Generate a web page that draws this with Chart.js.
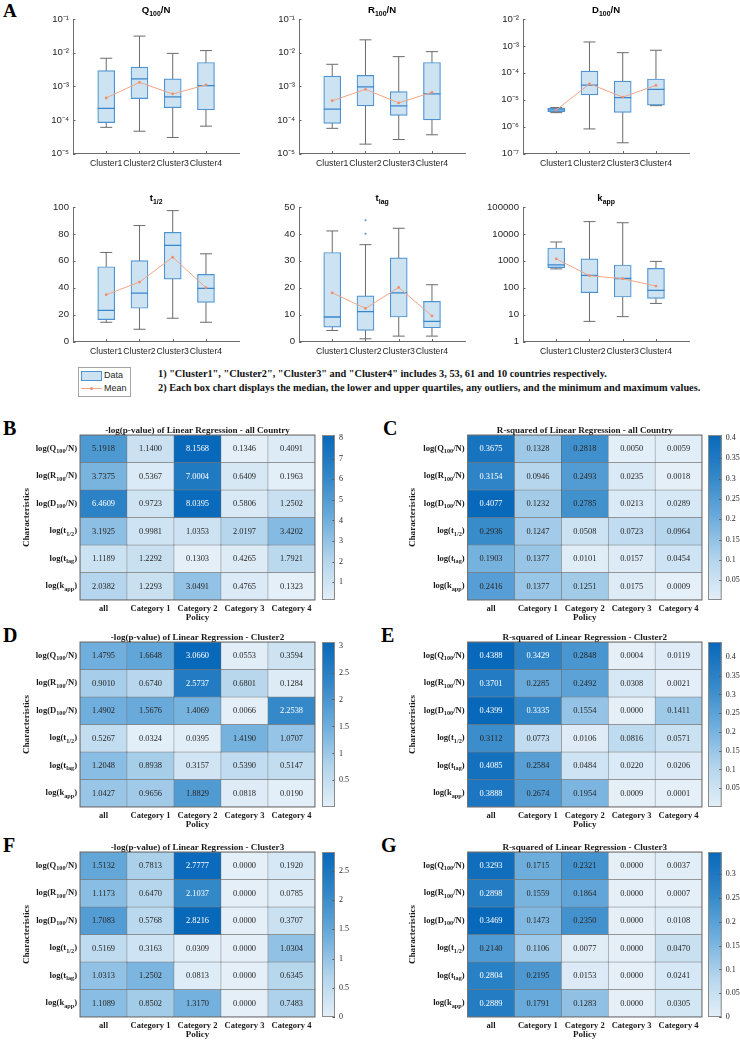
<!DOCTYPE html>
<html><head><meta charset="utf-8">
<script src="https://cdn.jsdelivr.net/npm/chart.js@4.4.0/dist/chart.umd.min.js"></script>
<style>
html,body{margin:0;padding:0;background:#fff;}
#fig{position:relative;width:740px;height:1047px;overflow:hidden;background:#fff;}
#fig canvas{position:absolute;}
.letter{position:absolute;font-family:'Liberation Serif','Times New Roman',serif;font-weight:bold;line-height:1;color:#000;}
#notes{position:absolute;left:158px;top:367px;font-family:'Liberation Serif','Times New Roman',serif;font-weight:bold;font-size:10.3px;line-height:14px;color:#111;white-space:nowrap;}
#legend{position:absolute;left:78px;top:367px;width:51px;height:28px;border:1px solid #a3a3a3;background:#fff;font-family:'Liberation Sans',Arial,sans-serif;font-size:9px;color:#262626;}
#legend span{position:absolute;line-height:10px;}
</style></head>
<body><div id="fig">
<div class="letter" style="left:3px;top:1px;font-size:19px;">A</div>
<div class="letter" style="left:3px;top:418px;font-size:20px;">B</div>
<div class="letter" style="left:383px;top:418px;font-size:20px;">C</div>
<div class="letter" style="left:3px;top:625px;font-size:20px;">D</div>
<div class="letter" style="left:381px;top:625px;font-size:20px;">E</div>
<div class="letter" style="left:3px;top:835px;font-size:20px;">F</div>
<div class="letter" style="left:381px;top:835px;font-size:20px;">G</div>
<div id="legend">
  <div style="position:absolute;left:2px;top:3px;width:19px;height:8px;background:#cde3f2;border:1px solid #4d93d2;"></div>
  <span style="left:25px;top:2px;">Data</span>
  <div style="position:absolute;left:2px;top:20px;width:21px;height:1px;background:#f2a585;"></div>
  <div style="position:absolute;left:11px;top:19px;width:3px;height:3px;border-radius:50%;background:#ee9070;"></div>
  <span style="left:25px;top:15px;">Mean</span>
</div>
<div id="notes">1) "Cluster1", "Cluster2", "Cluster3" and "Cluster4" includes 3, 53, 61 and 10 countries respectively.<br>2) Each box chart displays the median, the lower and upper quartiles, any outliers, and the minimum and maximum values.</div>
</div>
<script>
// ---------------- DATA ----------------
const clusters = ['Cluster1','Cluster2','Cluster3','Cluster4'];

const q100Min  = [6.0e-5, 4.6e-5, 3.0e-5, 6.5e-5];
const q100Q1   = [8.3e-5, 4.3e-4, 2.3e-4, 2.0e-4];
const q100Med  = [2.2e-4, 1.65e-3, 4.8e-4, 1.05e-3];
const q100Q3   = [2.9e-3, 3.7e-3, 1.65e-3, 5.1e-3];
const q100Max  = [6.8e-3, 3.1e-2, 9.5e-3, 1.15e-2];
const q100Mean = [4.5e-4, 1.3e-3, 5.9e-4, 1.1e-3];

const r100Min  = [5.6e-5, 1.9e-5, 2.6e-5, 3.6e-5];
const r100Q1   = [7.9e-5, 2.6e-4, 1.35e-4, 1.0e-4];
const r100Med  = [2.1e-4, 9.6e-4, 2.6e-4, 5.9e-4];
const r100Q3   = [2.0e-3, 2.1e-3, 6.9e-4, 5.1e-3];
const r100Max  = [4.5e-3, 2.4e-2, 7.6e-3, 1.07e-2];
const r100Mean = [3.7e-4, 8.1e-4, 3.2e-4, 6.6e-4];

const d100Min  = [3.3e-6, 8.2e-7, 2.5e-7, 6.0e-6];
const d100Q1   = [3.6e-6, 1.5e-5, 3.4e-6, 6.3e-6];
const d100Med  = [4.2e-6, 3.5e-5, 1.2e-5, 2.4e-5];
const d100Q3   = [4.9e-6, 1.15e-4, 4.9e-5, 5.9e-5];
const d100Max  = [5.1e-6, 1.4e-3, 5.6e-4, 6.9e-4];
const d100Mean = [4.1e-6, 3.9e-5, 1.25e-5, 3.4e-5];

const thMin  = [14.3, 9.1, 17.3, 14.3];
const thQ1   = [16.3, 24.7, 46.4, 29.1];
const thMed  = [23.2, 36.0, 71.4, 39.5];
const thQ3   = [55.6, 60.2, 81.2, 49.9];
const thMax  = [66.2, 86.2, 97.3, 65.2];
const thMean = [34.8, 44.2, 62.7, 40.0];

const tlMin  = [4.1, 1.0, 2.0, 2.0];
const tlQ1   = [5.3, 4.1, 9.1, 5.1];
const tlMed  = [9.1, 11.1, 18.1, 7.5];
const tlQ3   = [33.1, 17.0, 31.1, 14.9];
const tlMax  = [41.1, 36.0, 42.1, 21.1];
const tlMean = [18.1, 12.3, 20.1, 9.5];
const tlOutX = [2, 2];
const tlOutY = [40.1, 45.1];

const kMin  = [500, 5.6, 8.4, 26];
const kQ1   = [560, 65, 45, 40];
const kMed  = [710, 285, 220, 80];
const kQ3   = [3000, 1180, 700, 520];
const kMax  = [5000, 28600, 26000, 950];
const kMean = [1180, 280, 215, 115];

const ticksQR  = [1e-5, 1e-4, 1e-3, 1e-2, 1e-1];
const labelsQR = ['10⁻⁵','10⁻⁴','10⁻³','10⁻²','10⁻¹'];
const ticksD   = [1e-7, 1e-6, 1e-5, 1e-4, 1e-3, 1e-2];
const labelsD  = ['10⁻⁷','10⁻⁶','10⁻⁵','10⁻⁴','10⁻³','10⁻²'];
const ticksK   = [1, 10, 100, 1000, 10000, 100000];
const labelsK  = ['1','10','100','1000','10000','100000'];
const ticksTh  = [0, 20, 40, 60, 80, 100];
const labelsTh = ['0','20','40','60','80','100'];
const ticksTl  = [0, 10, 20, 30, 40, 50];
const labelsTl = ['0','10','20','30','40','50'];

const rowLabels = ['log(Q_{100}/N)','log(R_{100}/N)','log(D_{100}/N)','log(t_{1/2})','log(t_{lag})','log(k_{app})'];
const colLabels = ['all','Category 1','Category 2','Category 3','Category 4'];

const pvalAll = [
  [5.1918, 1.1400, 8.1568, 0.1346, 0.4091],
  [3.7375, 0.5367, 7.0004, 0.6409, 0.1963],
  [6.4609, 0.9723, 8.0395, 0.5806, 1.2502],
  [3.1925, 0.9981, 1.0353, 2.0197, 3.4202],
  [1.1189, 1.2292, 0.1303, 0.4265, 1.7921],
  [2.0382, 1.2293, 3.0491, 0.4765, 0.1323]];
const rsqAll = [
  [0.3675, 0.1328, 0.2818, 0.0050, 0.0059],
  [0.3154, 0.0946, 0.2493, 0.0235, 0.0018],
  [0.4077, 0.1232, 0.2785, 0.0213, 0.0289],
  [0.2936, 0.1247, 0.0508, 0.0723, 0.0964],
  [0.1903, 0.1377, 0.0101, 0.0157, 0.0454],
  [0.2416, 0.1377, 0.1251, 0.0175, 0.0009]];
const pvalC2 = [
  [1.4795, 1.6648, 3.0660, 0.0553, 0.3594],
  [0.9010, 0.6740, 2.5737, 0.6801, 0.1284],
  [1.4902, 1.5676, 1.4069, 0.0066, 2.2538],
  [0.5267, 0.0324, 0.0395, 1.4190, 1.0707],
  [1.2048, 0.8938, 0.3157, 0.5390, 0.5147],
  [1.0427, 0.9656, 1.8829, 0.0818, 0.0190]];
const rsqC2 = [
  [0.4388, 0.3429, 0.2848, 0.0004, 0.0119],
  [0.3701, 0.2285, 0.2492, 0.0308, 0.0021],
  [0.4399, 0.3335, 0.1554, 0.0000, 0.1411],
  [0.3112, 0.0773, 0.0106, 0.0816, 0.0571],
  [0.4085, 0.2584, 0.0484, 0.0220, 0.0206],
  [0.3888, 0.2674, 0.1954, 0.0009, 0.0001]];
const pvalC3 = [
  [1.5132, 0.7813, 2.7777, 0.0000, 0.1920],
  [1.1173, 0.6470, 2.1037, 0.0000, 0.0785],
  [1.7083, 0.5768, 2.8216, 0.0000, 0.3707],
  [0.5169, 0.3163, 0.0309, 0.0000, 1.0304],
  [1.0313, 1.2502, 0.0813, 0.0000, 0.6345],
  [1.1089, 0.8502, 1.3170, 0.0000, 0.7483]];
const rsqC3 = [
  [0.3293, 0.1715, 0.2321, 0.0000, 0.0037],
  [0.2898, 0.1559, 0.1864, 0.0000, 0.0007],
  [0.3469, 0.1473, 0.2350, 0.0000, 0.0108],
  [0.2140, 0.1106, 0.0077, 0.0000, 0.0470],
  [0.2804, 0.2195, 0.0153, 0.0000, 0.0241],
  [0.2889, 0.1791, 0.1283, 0.0000, 0.0305]];

const cbTicksB = [1, 2, 3, 4, 5, 6, 7, 8];
const cbTicksC = [0.05, 0.1, 0.15, 0.2, 0.25, 0.3, 0.35, 0.4];
const cbTicksD = [0.5, 1, 1.5, 2, 2.5, 3];
const cbTicksE = [0.05, 0.1, 0.15, 0.2, 0.25, 0.3, 0.35, 0.4];
const cbTicksF = [0, 0.5, 1, 1.5, 2, 2.5];
const cbTicksG = [0, 0.05, 0.1, 0.15, 0.2, 0.25, 0.3];

// ---------------- HELPERS ----------------
const SANS = "'Liberation Sans', Arial, Helvetica, sans-serif";
const SERIF = "'Liberation Serif', 'Times New Roman', Times, serif";
const fig = document.getElementById('fig');
function makeCanvas(left, top, w, h){
  const c = document.createElement('canvas');
  c.width = Math.round(w); c.height = Math.round(h);
  c.style.left = left + 'px'; c.style.top = top + 'px';
  c.style.width = Math.round(w) + 'px'; c.style.height = Math.round(h) + 'px';
  fig.appendChild(c);
  return c;
}
function drawRich(ctx, text, x, y, o){
  const parts = []; const re = /_\{([^}]*)\}/g; let last = 0, m;
  while ((m = re.exec(text))) {
    if (m.index > last) parts.push({t: text.slice(last, m.index), sub: false});
    parts.push({t: m[1], sub: true}); last = re.lastIndex;
  }
  if (last < text.length) parts.push({t: text.slice(last), sub: false});
  const w8 = o.weight || 'normal';
  const fB = `${w8} ${o.size}px ${o.family}`, fS = `${w8} ${o.size*0.72}px ${o.family}`;
  let w = 0;
  parts.forEach(p => { ctx.font = p.sub ? fS : fB; p.w = ctx.measureText(p.t).width; w += p.w; });
  let sx = o.align === 'right' ? x - w : (o.align === 'center' ? x - w/2 : x);
  ctx.save(); ctx.fillStyle = o.color || '#000'; ctx.textAlign = 'left'; ctx.textBaseline = 'alphabetic';
  parts.forEach(p => { ctx.font = p.sub ? fS : fB; ctx.fillText(p.t, sx, p.sub ? y + o.size*0.3 : y); sx += p.w; });
  ctx.restore();
}
const cmapStops = [[0,228,239,248],[0.25,178,212,236],[0.5,107,172,220],[0.75,50,135,200],[1,8,104,186]];
function cmap(t){
  t = Math.max(0, Math.min(1, t));
  for (let i = 1; i < cmapStops.length; i++) {
    const a = cmapStops[i-1], b = cmapStops[i];
    if (t <= b[0]) {
      const f = (t - a[0]) / (b[0] - a[0]);
      return `rgb(${Math.round(a[1]+(b[1]-a[1])*f)},${Math.round(a[2]+(b[2]-a[2])*f)},${Math.round(a[3]+(b[3]-a[3])*f)})`;
    }
  }
  return 'rgb(8,104,186)';
}

// ---------------- BOX PLOTS ----------------
const boxPanels = [
  {title:'Q_{100}/N', col:0, row:0, yType:'logarithmic', yMin:1e-5, yMax:1e-1, ticks:ticksQR, labels:labelsQR,
   min:q100Min, q1:q100Q1, med:q100Med, q3:q100Q3, max:q100Max, mean:q100Mean},
  {title:'R_{100}/N', col:1, row:0, yType:'logarithmic', yMin:1e-5, yMax:1e-1, ticks:ticksQR, labels:labelsQR,
   min:r100Min, q1:r100Q1, med:r100Med, q3:r100Q3, max:r100Max, mean:r100Mean},
  {title:'D_{100}/N', col:2, row:0, yType:'logarithmic', yMin:1e-7, yMax:1e-2, ticks:ticksD, labels:labelsD,
   min:d100Min, q1:d100Q1, med:d100Med, q3:d100Q3, max:d100Max, mean:d100Mean},
  {title:'t_{1/2}', col:0, row:1, yType:'linear', yMin:0, yMax:100, ticks:ticksTh, labels:labelsTh,
   min:thMin, q1:thQ1, med:thMed, q3:thQ3, max:thMax, mean:thMean},
  {title:'t_{lag}', col:1, row:1, yType:'linear', yMin:0, yMax:50, ticks:ticksTl, labels:labelsTl,
   min:tlMin, q1:tlQ1, med:tlMed, q3:tlQ3, max:tlMax, mean:tlMean, outX:tlOutX, outY:tlOutY},
  {title:'k_{app}', col:2, row:1, yType:'logarithmic', yMin:1, yMax:1e5, ticks:ticksK, labels:labelsK,
   min:kMin, q1:kQ1, med:kMed, q3:kQ3, max:kMax, mean:kMean}
];

function boxChart(p){
  const plotLeft = [73, 299, 523][p.col], rowTop = [19, 206.7][p.row];
  const W = 249, H = 176;
  const cv = makeCanvas(plotLeft - 73, rowTop - 19, W, H);
  const pos = clusters.map((_, i) => i + 1);
  const whisk = []; pos.forEach((x, i) => { whisk.push({x, y:p.min[i]}, {x, y:p.max[i]}, {x, y:null}); });
  const caps = []; pos.forEach((x, i) => { caps.push({x, y:p.min[i]}, {x, y:p.max[i]}); });
  const datasets = [
    {type:'line', data:whisk, borderColor:'#6b6b6b', borderWidth:1, pointRadius:0, spanGaps:false, order:5},
    {type:'scatter', data:caps, pointStyle:'line', pointRadius:6, pointBorderColor:'#6b6b6b', pointBorderWidth:1, order:4},
    {type:'bar', data:pos.map((x, i) => ({x, y:[p.q1[i], p.q3[i]]})), backgroundColor:'#cde3f2',
     borderColor:'#4d93d2', borderWidth:1.2, borderSkipped:false, barThickness:17, order:3},
    {type:'scatter', data:pos.map((x, i) => ({x, y:p.med[i]})), pointStyle:'line', pointRadius:8.5,
     pointBorderColor:'#3a86cc', pointBorderWidth:1.3, order:2},
    {type:'line', data:pos.map((x, i) => ({x, y:p.mean[i]})), borderColor:'#f2a585', borderWidth:1,
     pointRadius:1.4, pointBackgroundColor:'#ee9070', pointBorderWidth:0, order:1}
  ];
  if (p.outX) datasets.push({type:'scatter', data:p.outY.map((y, i) => ({x:p.outX[i], y})), pointRadius:1,
    pointBackgroundColor:'#4d93d2', pointBorderWidth:0, order:2});
  const decor = {
    id:'decor',
    afterDraw(chart){
      const ctx = chart.ctx, ca = chart.chartArea, xs = chart.scales.x, ys = chart.scales.y;
      ctx.save(); ctx.strokeStyle = '#666'; ctx.lineWidth = 1;
      xs.ticks.forEach(t => { const px = Math.round(xs.getPixelForValue(t.value)) + 0.5;
        ctx.beginPath(); ctx.moveTo(px, ca.bottom); ctx.lineTo(px, ca.bottom - 2.5); ctx.stroke(); });
      ys.ticks.forEach(t => { const py = Math.round(ys.getPixelForValue(t.value)) + 0.5;
        ctx.beginPath(); ctx.moveTo(ca.left, py); ctx.lineTo(ca.left + 2.5, py); ctx.stroke(); });
      ctx.restore();
      drawRich(ctx, p.title, (ca.left + ca.right) / 2, ca.top - 6, {size:9.6, family:SANS, weight:'bold', color:'#000', align:'center'});
    }
  };
  new Chart(cv, {
    type:'bar',
    data:{datasets},
    options:{
      responsive:false, animation:false, devicePixelRatio:1, events:[],
      layout:{padding:{left:0, right:6, top:19, bottom:0}},
      plugins:{legend:{display:false}, tooltip:{enabled:false}, title:{display:false}},
      scales:{
        x:{type:'linear', min:0, max:5, offset:false,
           afterBuildTicks: ax => { ax.ticks = pos.map(v => ({value:v})); },
           afterFit: s => { s.height = H - 153.5; },
           grid:{display:false, drawTicks:false, offset:false},
           border:{display:true, color:'#6b6b6b', width:1},
           ticks:{callback:(v, i) => clusters[i], font:{family:SANS, size:8.7}, color:'#262626', padding:5, maxRotation:0, autoSkip:false}},
        y:{type:p.yType, min:p.yMin, max:p.yMax,
           afterBuildTicks: ax => { ax.ticks = p.ticks.map(v => ({value:v})); },
           afterFit: s => { s.width = 73; },
           grid:{display:false, drawTicks:false},
           border:{display:true, color:'#6b6b6b', width:1},
           ticks:{callback:(v, i) => p.labels[i], font:{family:SANS, size:9.6}, color:'#262626', padding:4, autoSkip:false}}
      }
    },
    plugins:[decor]
  });
}
boxPanels.forEach(boxChart);

// ---------------- HEATMAPS ----------------
const heatmaps = [
  {title:'-log(p-value) of Linear Regression - all Country', vals:pvalAll, cbTicks:cbTicksB, col:0, row:0},
  {title:'R-squared of Linear Regression - all Country', vals:rsqAll, cbTicks:cbTicksC, col:1, row:0},
  {title:'-log(p-value) of Linear Regression - Cluster2', vals:pvalC2, cbTicks:cbTicksD, col:0, row:1},
  {title:'R-squared of Linear Regression - Cluster2', vals:rsqC2, cbTicks:cbTicksE, col:1, row:1},
  {title:'-log(p-value) of Linear Regression - Cluster3', vals:pvalC3, cbTicks:cbTicksF, col:0, row:2},
  {title:'R-squared of Linear Regression - Cluster3', vals:rsqC3, cbTicks:cbTicksG, col:1, row:2}
];

function heatmapChart(h){
  const colX0 = h.col === 0 ? 0 : 370;
  const g = h.col === 0 ? {gridL:80, gridR:315, cbL:322, cbR:335, charX:27}
                        : {gridL:467.6, gridR:701.6, cbL:708, cbR:721.7, charX:413};
  const top = [410, 617, 827][h.row];
  const H = 215, W = g.gridR + 4 - colX0;
  const nR = rowLabels.length;
  const flat = h.vals.flat();
  const vmin = Math.min(...flat), vmax = Math.max(...flat);
  const datasets = h.vals.map((rowVals, r) => ({
    data: rowVals.map(() => [nR - 1 - r, nR - r]),
    backgroundColor: rowVals.map(v => cmap((v - vmin) / (vmax - vmin))),
    borderColor:'#5e5e5e', borderWidth:0.5, borderSkipped:false,
    barPercentage:1, categoryPercentage:1, grouped:false
  }));
  const cv = makeCanvas(colX0, top, W, H);
  const lh = 9.1 * 1.2;
  const deco = {
    id:'hdeco',
    afterDatasetsDraw(chart){
      const ctx = chart.ctx, ca = chart.chartArea, ys = chart.scales.y;
      ctx.save();
      ctx.font = `8.4px ${SERIF}`; ctx.textAlign = 'center'; ctx.textBaseline = 'middle';
      h.vals.forEach((rowVals, r) => {
        const meta = chart.getDatasetMeta(r);
        meta.data.forEach((el, c) => {
          const pt = el.getCenterPoint();
          const t = (rowVals[c] - vmin) / (vmax - vmin);
          ctx.fillStyle = t > 0.72 ? '#ffffff' : '#262626';
          ctx.fillText(rowVals[c].toFixed(4), pt.x, pt.y + 0.5);
        });
      });
      ctx.strokeStyle = '#6a6a6a'; ctx.lineWidth = 1;
      ctx.strokeRect(ca.left, ca.top, ca.right - ca.left, ca.bottom - ca.top);
      ctx.restore();
      rowLabels.forEach((lab, r) => {
        const yc = ys.getPixelForValue(nR - r - 0.5);
        drawRich(ctx, lab, ca.left - 3, yc + 1.9, {size:8.6, family:SERIF, weight:'bold', color:'#1a1a1a', align:'right'});
      });
      drawRich(ctx, h.title, (ca.left + ca.right) / 2, ca.top - 2.3, {size:9.1, family:SERIF, weight:'bold', color:'#1a1a1a', align:'center'});
    }
  };
  new Chart(cv, {
    type:'bar',
    data:{labels:colLabels, datasets},
    options:{
      responsive:false, animation:false, devicePixelRatio:1, events:[],
      layout:{padding:{left:0, right:4, top:25, bottom:0}},
      plugins:{legend:{display:false}, tooltip:{enabled:false}},
      scales:{
        x:{grid:{display:false, drawTicks:false}, border:{display:false},
           afterFit: s => { s.height = 25; },
           ticks:{font:{family:SERIF, size:8.5, weight:'bold'}, color:'#1a1a1a', padding:3.5, maxRotation:0, autoSkip:false},
           title:{display:true, text:'Policy', font:{family:SERIF, size:9, weight:'bold'}, color:'#1a1a1a', padding:{top:0, bottom:1.5}}},
        y:{min:0, max:nR, grid:{display:false, drawTicks:false}, border:{display:false},
           afterFit: s => { s.width = g.gridL - colX0; },
           ticks:{display:false},
           title:{display:true, text:'Characteristics', font:{family:SERIF, size:9.1, weight:'bold'}, color:'#1a1a1a',
                  padding:{top:g.charX - colX0 - lh / 2, bottom:0}}}
      }
    },
    plugins:[deco]
  });

  // colour bar
  const cbLeft = g.cbL - 4;
  const cbW = (h.col === 0 ? 370 : 740) - cbLeft;
  const cbc = makeCanvas(cbLeft, top, cbW, H);
  const cbDeco = {
    id:'cbdeco',
    afterDraw(chart){
      const ctx = chart.ctx, ca = chart.chartArea, ys = chart.scales.y;
      ctx.save(); ctx.strokeStyle = '#555'; ctx.lineWidth = 1;
      ys.ticks.forEach(t => { const py = Math.round(ys.getPixelForValue(t.value)) + 0.5;
        ctx.beginPath(); ctx.moveTo(ca.right - 2.5, py); ctx.lineTo(ca.right, py); ctx.stroke(); });
      ctx.strokeStyle = '#8a8a8a';
      ctx.strokeRect(ca.left + 0.5, ca.top + 0.5, ca.right - ca.left - 1, ca.bottom - ca.top - 1);
      ctx.restore();
    }
  };
  new Chart(cbc, {
    type:'bar',
    data:{labels:[''], datasets:[{
      data:[[vmin, vmax]],
      backgroundColor: (ctx) => {
        const ca = ctx.chart.chartArea; if (!ca) return '#cfe2f3';
        const gr = ctx.chart.ctx.createLinearGradient(0, ca.bottom, 0, ca.top);
        cmapStops.forEach(s => gr.addColorStop(s[0], `rgb(${s[1]},${s[2]},${s[3]})`));
        return gr;
      },
      borderWidth:0, barPercentage:1, categoryPercentage:1
    }]},
    options:{
      responsive:false, animation:false, devicePixelRatio:1, events:[],
      layout:{padding:{left:4, right:0, top:25, bottom:25}},
      plugins:{legend:{display:false}, tooltip:{enabled:false}},
      scales:{
        x:{display:false},
        y:{position:'right', min:vmin, max:vmax,
           afterBuildTicks: ax => { ax.ticks = h.cbTicks.map(v => ({value:v})); },
           afterFit: s => { s.width = cbW - (g.cbR - cbLeft); },
           grid:{display:false, drawTicks:false}, border:{display:false},
           ticks:{callback: v => String(v), font:{family:SERIF, size:8}, color:'#262626', padding:4, autoSkip:false}}
      }
    },
    plugins:[cbDeco]
  });
}
heatmaps.forEach(heatmapChart);
</script>
</body></html>
